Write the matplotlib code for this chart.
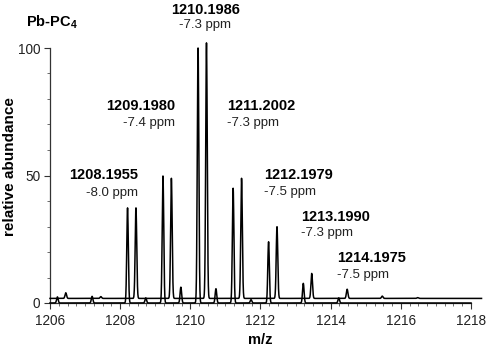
import numpy as np
import matplotlib
matplotlib.use("Agg")
import matplotlib.pyplot as plt
from matplotlib.ticker import MultipleLocator

plt.rcParams['font.family'] = ['Liberation Sans', 'DejaVu Sans']
plt.rcParams['mathtext.fontset'] = 'custom'
plt.rcParams['mathtext.bf'] = 'Liberation Sans:bold'
plt.rcParams['mathtext.rm'] = 'Liberation Sans'

# ---- data ----
# trace A (baseline at 0)
peaks_a_mz = [1206.21, 1207.20, 1208.21, 1208.73, 1209.22, 1209.73, 1210.22, 1210.73,
              1211.22, 1211.73, 1212.23, 1213.22, 1214.23]
peaks_a_h = [2.4, 2.6, 37.3, 2.0, 49.8, 6.2, 100.0, 5.6, 45.0, 1.3, 24.0, 7.7, 2.0]
# trace B (offset baseline)
baseline_b = 1.8
peaks_b_mz = [1206.45, 1207.45, 1208.45, 1209.46, 1210.46, 1211.46, 1212.47, 1213.46,
              1214.47, 1215.47, 1216.48]
peaks_b_h = [2.2, 0.7, 35.5, 47.1, 100.2, 47.1, 28.1, 9.8, 3.6, 0.9, 0.3]

mass_labels = ["1208.1955", "1209.1980", "1210.1986", "1211.2002",
               "1212.1979", "1213.1990", "1214.1975"]
ppm_labels = ["-8.0 ppm", "-7.4 ppm", "-7.3 ppm", "-7.3 ppm",
              "-7.5 ppm", "-7.3 ppm", "-7.5 ppm"]
# label anchor positions (data coords) and alignment
lab_x = [1208.51, 1209.56, 1210.42, 1211.05, 1212.10, 1213.16, 1214.18]
lab_y = [50.2, 77.3, 114.9, 77.3, 50.2, 33.7, 17.6]
ppm_y = [43.1, 70.6, 109.0, 70.6, 43.5, 27.5, 11.0]
lab_ha = ['right', 'right', 'center', 'left', 'left', 'left', 'left']

x_ticks = [1206, 1208, 1210, 1212, 1214, 1216, 1218]
y_ticks = [0, 50, 100]

# ---- figure ----
fig = plt.figure(figsize=(4.9, 3.49), dpi=100)
ax = fig.add_axes([50/490, 46/349, 421/490, 255/349])

sigma = 0.022

def profile(x, mz, h, base):
    y = np.full_like(x, base)
    for m, hh in zip(mz, h):
        y += hh * np.exp(-0.5 * ((x - m) / sigma) ** 2)
    return y

xa = np.arange(1206.0, 1218.0001, 0.002)
xb = np.arange(1206.0, 1218.3001, 0.002)
ax.plot(xa, profile(xa, peaks_a_mz, peaks_a_h, 0.0), color='black', lw=1.1, clip_on=False, zorder=3)
ax.plot(xb, profile(xb, peaks_b_mz, peaks_b_h, baseline_b), color='black', lw=1.1, clip_on=False, zorder=3)

ax.set_xlim(1206, 1218)
ax.set_ylim(0, 100)
for s in ['top', 'right']:
    ax.spines[s].set_visible(False)
for s in ['left', 'bottom']:
    ax.spines[s].set_linewidth(0.9)
    ax.spines[s].set_color('#333333')

ax.set_xticks(x_ticks)
ax.set_yticks(y_ticks)
ax.xaxis.set_minor_locator(MultipleLocator(0.25))
ax.yaxis.set_minor_locator(MultipleLocator(10))
ax.tick_params(axis='both', which='major', length=4, width=0.8, color='#333333',
               labelsize=9.8, labelcolor='#222222', direction='out')
ax.tick_params(axis='both', which='minor', length=2.5, width=0.6, color='#555555', direction='out')
ax.tick_params(axis='x', which='major', pad=4)
ax.tick_params(axis='y', which='major', pad=3)

ax.set_xlabel('m/z', fontsize=10.5, fontweight='bold')
ax.xaxis.set_label_coords(0.5, -30/255)
ax.set_ylabel('relative abundance', fontsize=11, fontweight='bold')
ax.yaxis.set_label_coords(-33/421, 0.535)

for m, p, x, y1, y2, ha in zip(mass_labels, ppm_labels, lab_x, lab_y, ppm_y, lab_ha):
    ax.text(x, y1, m, ha=ha, va='center', fontsize=10.5, fontweight='bold', clip_on=False)
    ax.text(x, y2, p, ha=ha, va='center', fontsize=9.5, clip_on=False, color='#222222')

fig.text(26/490, 1 - 22/349, r'Pb-PC$_\mathbf{4}$', ha='left', va='center',
         fontsize=10.5, fontweight='bold')

fig.savefig('out.png', dpi=100)
